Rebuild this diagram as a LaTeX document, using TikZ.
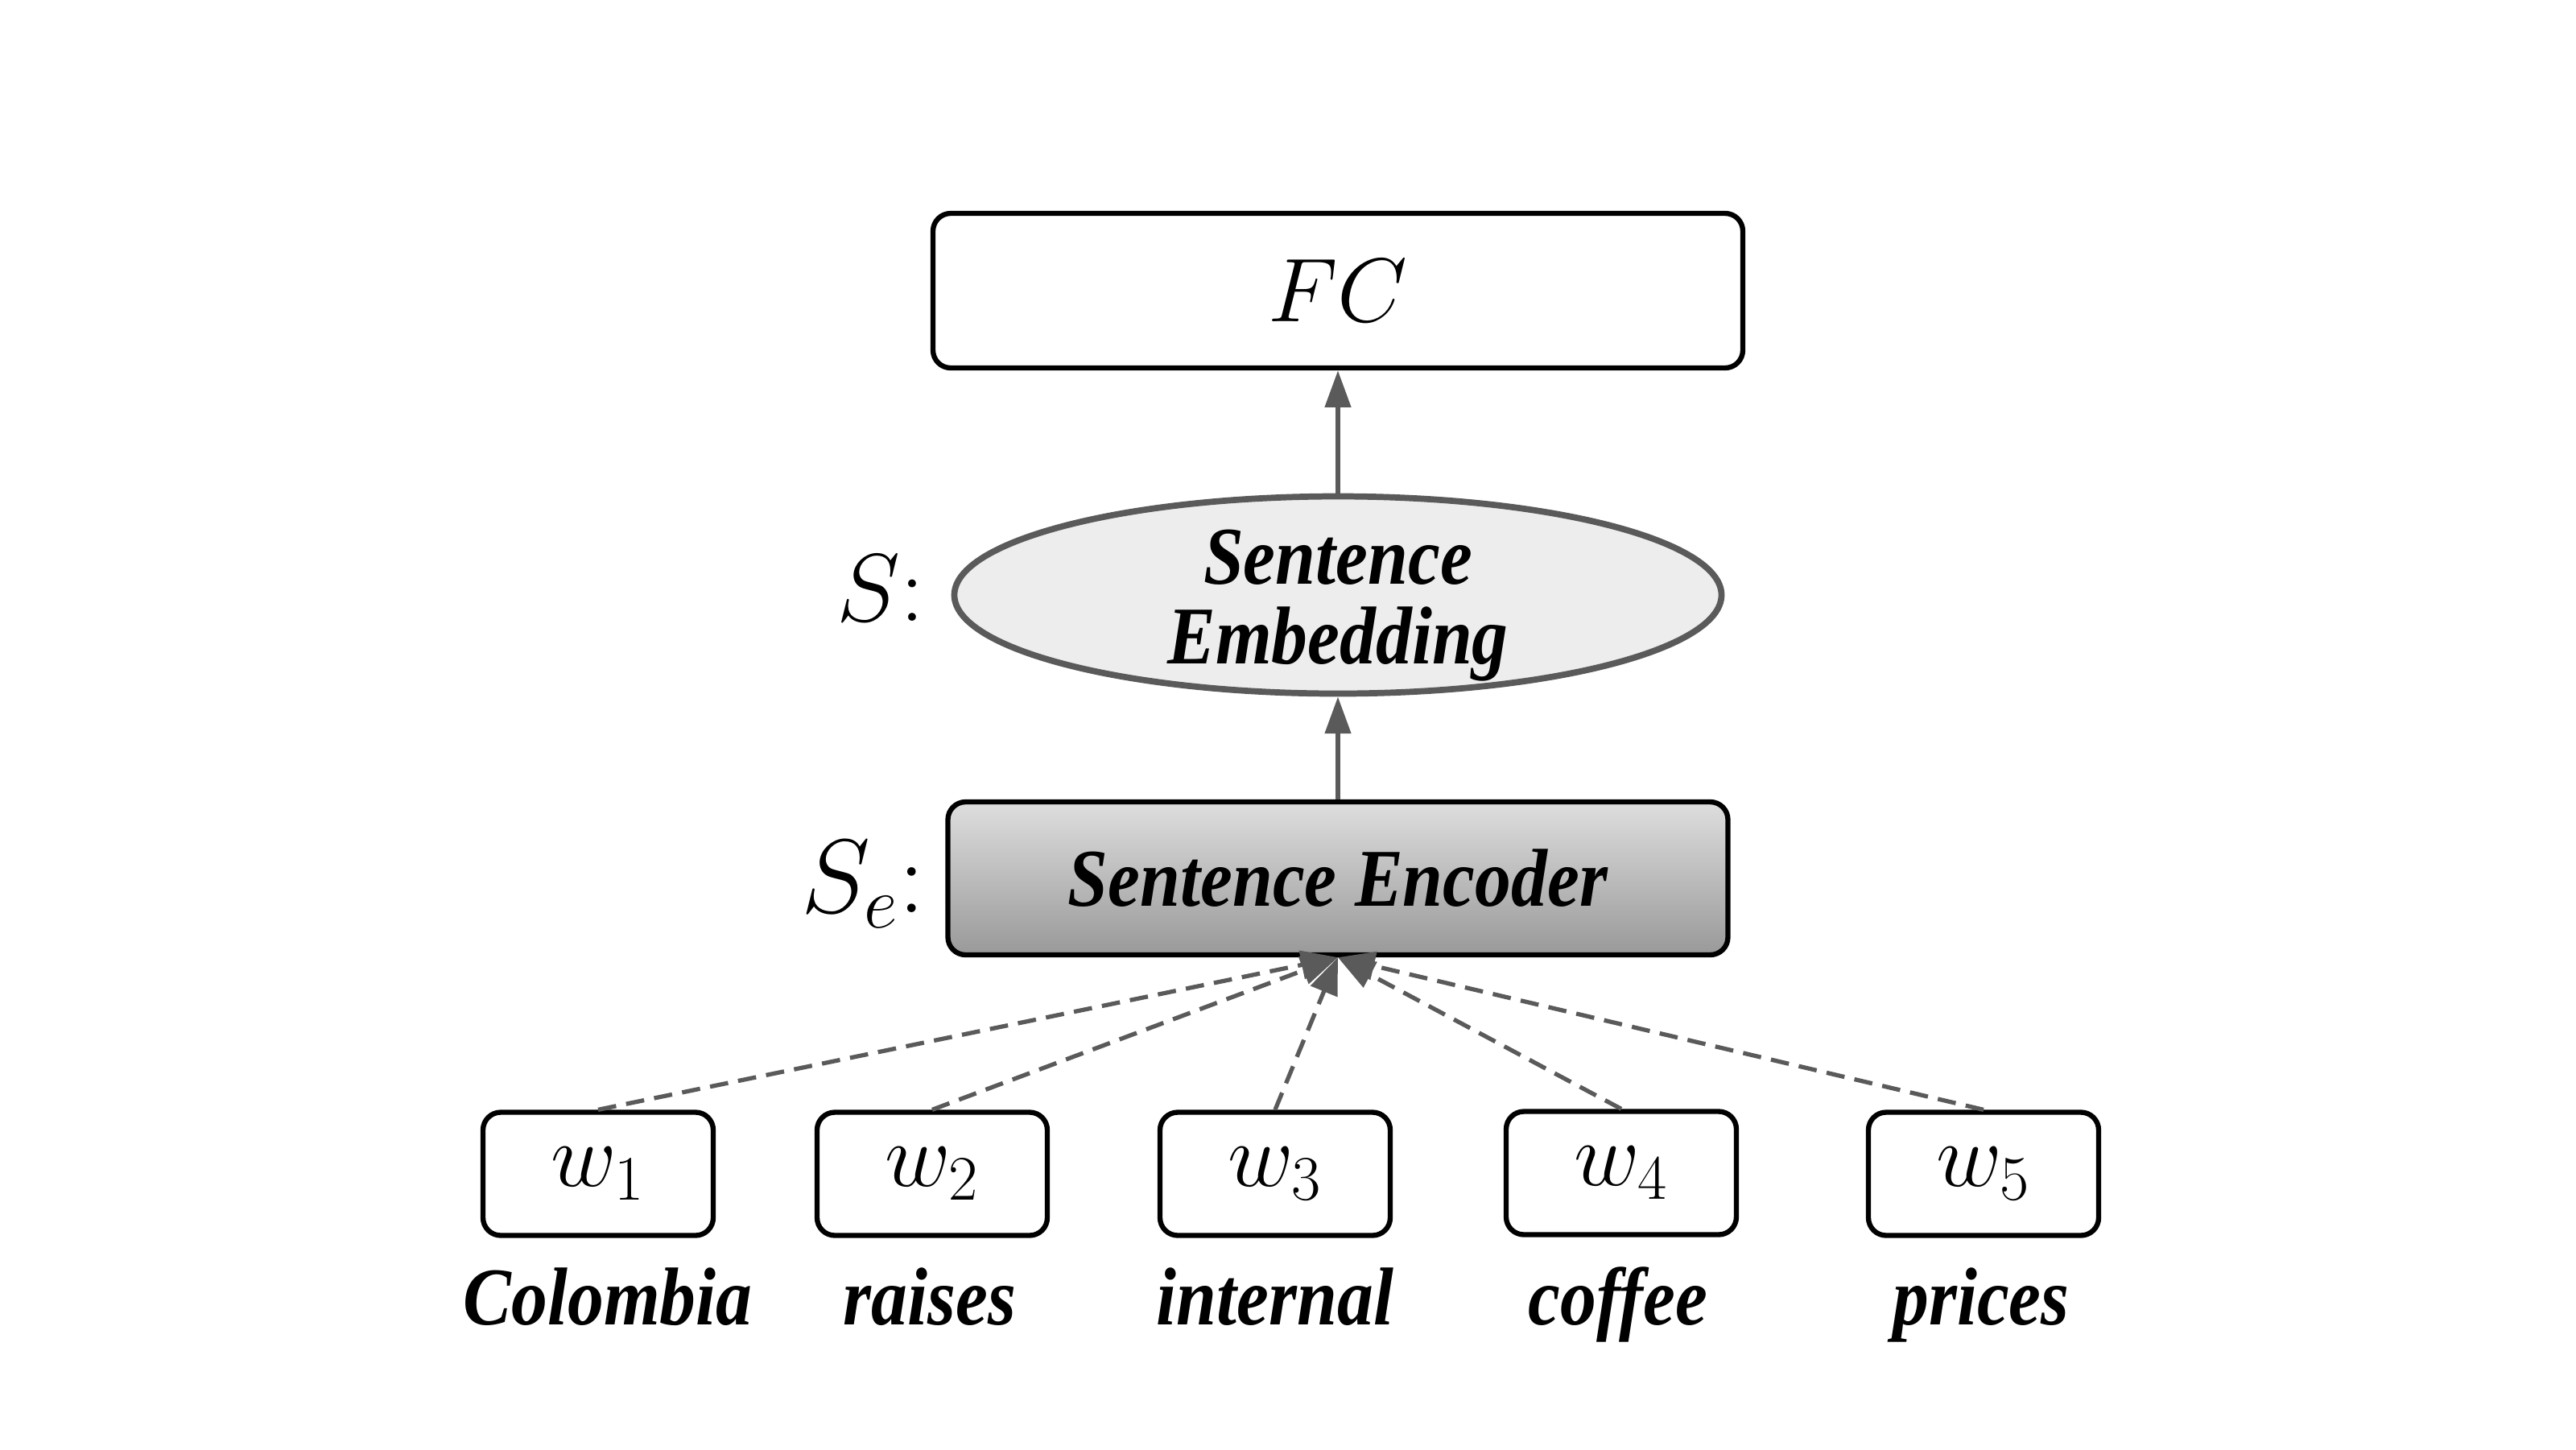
\RequirePackage{fix-cm}
\documentclass[tikz,border=0pt]{standalone}
\usepackage{fontspec}
\newfontfamily\lblfont{Liberation Serif}[FakeStretch=0.88]
\usetikzlibrary{arrows.meta,shapes.geometric}
\definecolor{edgegray}{HTML}{5A5A5A}
\tikzset{
  box/.style={draw=black, line width=1.8pt, rounded corners=0.22cm, fill=white, inner sep=0pt},
  wordbox/.style={box, minimum width=2.86cm, minimum height=1.53cm, font=\fontsize{32}{34}\selectfont},
  wordlbl/.style={anchor=base, font=\lblfont\bfseries\itshape\fontsize{29}{30}\selectfont},
  solidarrow/.style={draw=edgegray, line width=1.6pt, -{Triangle[length=13pt,width=9pt]}},
  dasharrow/.style={draw=edgegray, line width=1.5pt, dash pattern=on 6.5pt off 3.6pt, -{Triangle[length=13pt,width=10pt]}},
}
\begin{document}
\begin{tikzpicture}
\useasboundingbox (0,0) rectangle (32,-18);
% FC
\node[box, minimum width=10.06cm, minimum height=1.92cm, font=\fontsize{32}{34}\selectfont] (fc) at (16.62,-3.61) {$FC$};
% embedding
\node[ellipse, draw=edgegray, line width=2.2pt, fill=black!7, minimum width=9.53cm, minimum height=2.45cm, inner sep=0pt, font=\lblfont\bfseries\itshape\fontsize{29}{27}\selectfont] (emb) at (16.62,-7.39) {\raisebox{-12pt}[0pt][0pt]{\begin{tabular}{@{}c@{}}Sentence\\Embedding\end{tabular}}};
% encoder
\node[box, draw=black, top color=black!13, bottom color=black!40, minimum width=9.69cm, minimum height=1.90cm, font=\lblfont\bfseries\itshape\fontsize{29}{30}\selectfont] (enc) at (16.62,-10.91) {Sentence Encoder};
% labels
\node[anchor=base, font=\fontsize{34}{36}\selectfont] (slbl) at (10.94,-7.71) {$S{:}$};
\node[anchor=base, font=\fontsize{37}{40}\selectfont] (selbl) at (10.72,-11.33) {$S_e{:}$};
% word boxes
\node[wordbox] (w1) at (7.43,-14.58) {$w_1$};
\node[wordbox] (w2) at (11.58,-14.58) {$w_2$};
\node[wordbox] (w3) at (15.84,-14.58) {$w_3$};
\node[wordbox] (w4) at (20.14,-14.57) {$w_4$};
\node[wordbox] (w5) at (24.64,-14.58) {$w_5$};
% word labels
\node[wordlbl] (t1) at (7.55,-16.45) {Colombia};
\node[wordlbl] (t2) at (11.55,-16.45) {raises};
\node[wordlbl] (t3) at (15.84,-16.45) {internal};
\node[wordlbl] (t4) at (20.10,-16.45) {coffee};
\node[wordlbl] (t5) at (24.61,-16.45) {prices};
% connectors
\draw[solidarrow] (emb.north) -- (fc.south);
\draw[solidarrow] (enc.north) -- (emb.south);
\foreach \w in {w1,w2,w3,w4,w5}
  \draw[dasharrow] (\w.north) -- (enc.south);
\end{tikzpicture}
\end{document}
